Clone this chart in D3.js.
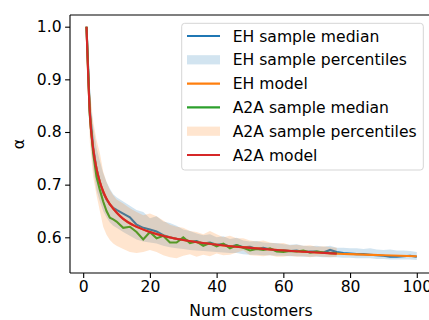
<!DOCTYPE html>
<html><head><meta charset="utf-8">
<script src="https://cdn.jsdelivr.net/npm/d3@7"></script>
<style>body{margin:0;background:#fff;} text{font-family:"DejaVu Sans",sans-serif;}</style>
</head><body>
<svg id="c" width="429" height="320"></svg>
<script>
const ehX = [1,2,3,4,5,6,7,8,9,10,12,14,16,18,20,22,24,26,28,30,32,34,36,38,40,42,44,46,48,50,52,54,56,58,60,62,64,66,68,70,72,74,76,78,80,82,84,86,88,90,92,94,96,98,100];
const ehMedian = [1.000,0.840,0.770,0.730,0.705,0.685,0.672,0.662,0.656,0.652,0.645,0.638,0.624,0.618,0.615,0.611,0.604,0.600,0.597,0.596,0.592,0.593,0.588,0.590,0.586,0.587,0.582,0.585,0.581,0.582,0.578,0.580,0.577,0.575,0.576,0.574,0.575,0.572,0.573,0.573,0.571,0.576,0.572,0.570,0.569,0.568,0.568,0.567,0.566,0.565,0.563,0.563,0.564,0.565,0.563];
const ehLow = [1.000,0.800,0.730,0.690,0.668,0.650,0.638,0.628,0.622,0.618,0.610,0.603,0.596,0.592,0.590,0.588,0.584,0.581,0.579,0.578,0.576,0.575,0.574,0.573,0.572,0.571,0.570,0.570,0.568,0.567,0.567,0.566,0.566,0.565,0.565,0.564,0.564,0.563,0.563,0.563,0.562,0.562,0.562,0.561,0.561,0.560,0.560,0.560,0.559,0.559,0.558,0.558,0.558,0.558,0.557];
const ehHigh = [1.000,0.870,0.810,0.770,0.745,0.722,0.705,0.692,0.682,0.676,0.668,0.660,0.652,0.648,0.636,0.640,0.630,0.627,0.622,0.615,0.612,0.607,0.604,0.606,0.600,0.602,0.597,0.599,0.594,0.592,0.593,0.590,0.589,0.589,0.587,0.586,0.587,0.584,0.583,0.584,0.582,0.584,0.580,0.580,0.579,0.579,0.578,0.579,0.577,0.576,0.577,0.575,0.575,0.574,0.572];

const a2aX = [1,2,3,4,5,6,7,8,9,10,12,14,16,18,20,22,24,26,28,30,32,34,36,38,40,42,44,46,48,50,52,54,56,58,60,62,64,66,68,70,72,74,76];
const a2aMedian = [1.000,0.830,0.760,0.715,0.690,0.668,0.650,0.637,0.634,0.630,0.618,0.620,0.610,0.596,0.610,0.598,0.603,0.590,0.590,0.600,0.589,0.592,0.584,0.589,0.583,0.588,0.579,0.585,0.580,0.575,0.578,0.576,0.579,0.573,0.572,0.574,0.573,0.575,0.571,0.573,0.571,0.570,0.570];
const a2aLow = [1.000,0.780,0.715,0.680,0.650,0.620,0.605,0.595,0.588,0.584,0.578,0.572,0.570,0.572,0.576,0.572,0.566,0.562,0.560,0.565,0.568,0.563,0.567,0.564,0.569,0.566,0.567,0.571,0.575,0.566,0.565,0.564,0.566,0.563,0.563,0.565,0.563,0.564,0.562,0.564,0.563,0.562,0.563];
const a2aHigh = [1.000,0.880,0.820,0.785,0.760,0.725,0.705,0.690,0.680,0.672,0.664,0.655,0.648,0.642,0.645,0.640,0.632,0.624,0.620,0.618,0.612,0.610,0.606,0.612,0.606,0.600,0.603,0.598,0.598,0.594,0.592,0.594,0.590,0.588,0.589,0.585,0.586,0.584,0.585,0.582,0.583,0.581,0.580];

const ehModelX = [1,2,3,4,5,6,7,8,10,12,15,20,25,30,40,50,60,70,76,80,90,100];
const ehModel = [1.000,0.835,0.768,0.730,0.705,0.687,0.673,0.663,0.647,0.635,0.623,0.610,0.601,0.595,0.586,0.580,0.575,0.571,0.569,0.568,0.566,0.564];
const a2aModelX = [1,2,3,4,5,6,7,8,10,12,15,20,25,30,40,50,60,70,76];
const a2aModel = [1.000,0.835,0.768,0.730,0.705,0.687,0.673,0.663,0.647,0.635,0.623,0.610,0.601,0.595,0.586,0.580,0.575,0.571,0.569];

const xTicks = [0,20,40,60,80,100];
const yTicks = [0.6,0.7,0.8,0.9,1.0];
const legendLabels = ["EH sample median","EH sample percentiles","EH model","A2A sample median","A2A sample percentiles","A2A model"];

const C = {blue:"#1f77b4", orange:"#ff7f0e", green:"#2ca02c", red:"#d62728"};
const FS = "15.6px";
const svg = d3.select("#c");
const L = 70, R = 433.3, T = 15, B = 273;
const x = d3.scaleLinear().domain([-3.95, 104.95]).range([L, R]);
const y = d3.scaleLinear().domain([0.5322, 1.0222]).range([B, T]);

const zip = (xs, ys) => xs.map((v,i)=>[v, ys[i]]);
const zip3 = (xs, lo, hi) => xs.map((v,i)=>[v, lo[i], hi[i]]);
const line = d3.line().x(d=>x(d[0])).y(d=>y(d[1]));
const smooth = d3.line().x(d=>x(d[0])).y(d=>y(d[1])).curve(d3.curveMonotoneX);
const area = d3.area().x(d=>x(d[0])).y0(d=>y(d[1])).y1(d=>y(d[2]));

const g = svg.append("g");
g.append("path").attr("d", line(zip(ehX, ehMedian))).attr("fill","none").attr("stroke",C.blue).attr("stroke-width",2.1);
g.append("path").attr("d", area(zip3(ehX, ehLow, ehHigh))).attr("fill",C.blue).attr("fill-opacity",0.2);
g.append("path").attr("d", smooth(zip(ehModelX, ehModel))).attr("fill","none").attr("stroke",C.orange).attr("stroke-width",2.1);
g.append("path").attr("d", line(zip(a2aX, a2aMedian))).attr("fill","none").attr("stroke",C.green).attr("stroke-width",2.1);
g.append("path").attr("d", area(zip3(a2aX, a2aLow, a2aHigh))).attr("fill",C.orange).attr("fill-opacity",0.2);
g.append("path").attr("d", smooth(zip(a2aModelX, a2aModel))).attr("fill","none").attr("stroke",C.red).attr("stroke-width",2.1);

// axes
const xAxis = d3.axisBottom(x).tickValues(xTicks).tickSize(4.9).tickPadding(3.5).tickFormat(d3.format("d"));
const yAxis = d3.axisLeft(y).tickValues(yTicks).tickSize(4.9).tickPadding(3.5).tickFormat(d3.format(".1f"));
const gx = svg.append("g").attr("transform",`translate(0,${B})`).call(xAxis);
const gy = svg.append("g").attr("transform",`translate(${L},0)`).call(yAxis);
[gx, gy].forEach(a=>{
  a.select(".domain").remove();
  a.selectAll(".tick line").attr("stroke","#000").attr("stroke-width",1.1);
  a.selectAll(".tick text").attr("fill","#000").style("font-size",FS).style("font-family","DejaVu Sans");
});
// spines
svg.append("line").attr("x1",L).attr("x2",L).attr("y1",T).attr("y2",B).attr("stroke","#000").attr("stroke-width",1.1);
svg.append("line").attr("x1",L).attr("x2",R).attr("y1",B).attr("y2",B).attr("stroke","#000").attr("stroke-width",1.1);
svg.append("line").attr("x1",L).attr("x2",R).attr("y1",T).attr("y2",T).attr("stroke","#000").attr("stroke-width",1.1);
svg.append("line").attr("x1",R).attr("x2",R).attr("y1",T).attr("y2",B).attr("stroke","#000").attr("stroke-width",1.1);

svg.append("text").attr("x",251).attr("y",315.5).attr("text-anchor","middle").style("font-size",FS).attr("fill","#000").text("Num customers");
svg.append("text").attr("transform",`translate(24,${(T+B)/2}) rotate(-90)`).attr("text-anchor","middle").style("font-size",FS).attr("fill","#000").text("α");

// legend
const lg = svg.append("g");
lg.append("rect").attr("x",181.7).attr("y",23.3).attr("width",241.6).attr("height",146.7).attr("rx",3)
  .attr("fill","#fff").attr("fill-opacity",0.8).attr("stroke","#d5d5d5").attr("stroke-width",1);
const handles = [
  {type:"line", color:C.blue}, {type:"patch", color:C.blue}, {type:"line", color:C.orange},
  {type:"line", color:C.green}, {type:"patch", color:C.orange}, {type:"line", color:C.red}
];
legendLabels.forEach((lab,i)=>{
  const cy = 36 + 23.8*i;
  const h = handles[i];
  if (h.type === "line") {
    lg.append("line").attr("x1",187).attr("x2",220).attr("y1",cy).attr("y2",cy).attr("stroke",h.color).attr("stroke-width",2.1);
  } else {
    lg.append("rect").attr("x",187).attr("y",cy-4.6).attr("width",33).attr("height",9.2).attr("fill",h.color).attr("fill-opacity",0.2);
  }
  lg.append("text").attr("x",232.7).attr("y",cy).attr("dy","0.36em").style("font-size",FS).attr("fill","#000").text(lab);
});
</script>
</body></html>
